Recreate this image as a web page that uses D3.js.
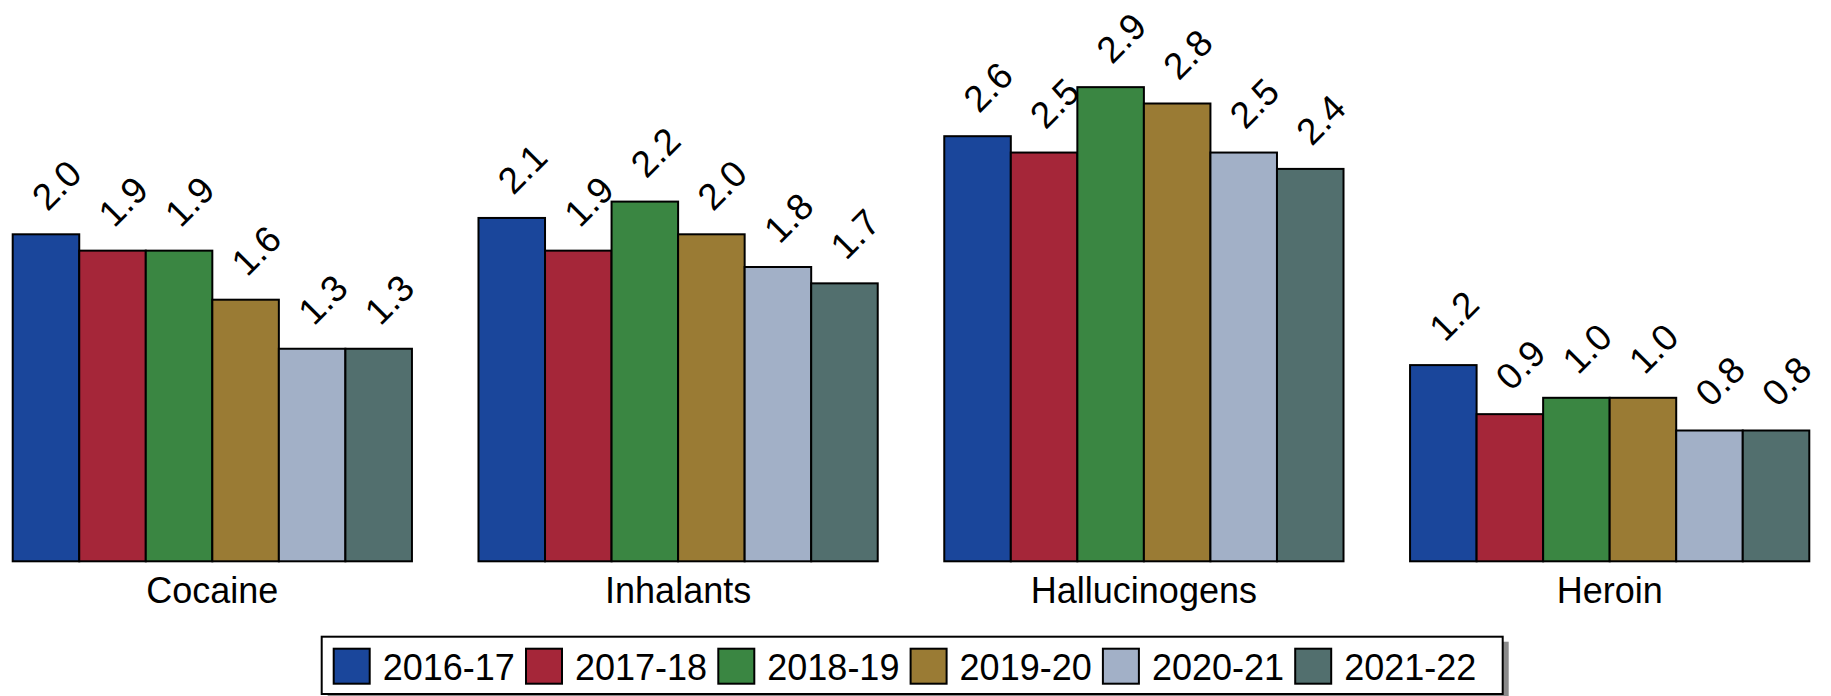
<!DOCTYPE html>
<html>
<head>
<meta charset="utf-8">
<script src="https://cdn.jsdelivr.net/npm/d3@7"></script>
<style>
html,body{margin:0;padding:0;background:#fff;}
svg{display:block;font-family:"Liberation Sans",Arial,Helvetica,sans-serif;}
</style>
</head>
<body>
<svg id="chart" width="1831" height="696"></svg>
<script>
// ---- data ----
const categories = ["Cocaine", "Inhalants", "Hallucinogens", "Heroin"];
const years = ["2016-17", "2017-18", "2018-19", "2019-20", "2020-21", "2021-22"];
const cocaine = [2.0, 1.9, 1.9, 1.6, 1.3, 1.3];
const inhalants = [2.1, 1.9, 2.2, 2.0, 1.8, 1.7];
const hallucinogens = [2.6, 2.5, 2.9, 2.8, 2.5, 2.4];
const heroin = [1.2, 0.9, 1.0, 1.0, 0.8, 0.8];
const colors = ["#1a469b", "#a52639", "#3a8642", "#9a7b34", "#a2b0c7", "#526f6e"];

const seriesByCategory = [cocaine, inhalants, hallucinogens, heroin];
const rows = [];
categories.forEach((c, ci) => {
  years.forEach((y, yi) => rows.push({cat: c, year: y, value: seriesByCategory[ci][yi]}));
});

// ---- layout ----
const svg = d3.select("#chart");
const fontSize = 36;

const x0 = d3.scaleBand().domain(categories).range([12.7, 1809.3]).paddingInner(1 / 7).paddingOuter(0);
const x1 = d3.scaleBand().domain(years).range([0, x0.bandwidth()]).padding(0);
const y = d3.scaleLinear().domain([0, 3]).range([561.3, 70.8]);
const color = d3.scaleOrdinal().domain(years).range(colors);

// bars
const g = svg.append("g");
g.selectAll("rect.bar").data(rows).join("rect")
  .attr("class", "bar")
  .attr("x", d => x0(d.cat) + x1(d.year))
  .attr("y", d => y(d.value))
  .attr("width", x1.bandwidth())
  .attr("height", d => y(0) - y(d.value))
  .attr("fill", d => color(d.year))
  .attr("stroke", "#000")
  .attr("stroke-width", 2);

// value labels, rotated 45 degrees
g.selectAll("text.val").data(rows).join("text")
  .attr("class", "val")
  .attr("transform", d => {
    const cx = x0(d.cat) + x1(d.year) + x1.bandwidth() / 2 + 1.5;
    const cy = y(d.value) - 22;
    return `translate(${cx},${cy}) rotate(-45)`;
  })
  .attr("font-size", 37)
  .attr("fill", "#000")
  .attr("text-anchor", "start")
  .text(d => d3.format(".1f")(d.value));

// category axis labels
const xAxis = d3.axisBottom(x0).tickSize(0).tickPadding(0);
const ax = svg.append("g").attr("transform", `translate(0,${y(0)})`).call(xAxis);
ax.select(".domain").remove();
ax.selectAll("text")
  .attr("font-size", fontSize)
  .attr("font-family", "'Liberation Sans',Arial,sans-serif")
  .attr("fill", "#000")
  .attr("dy", null)
  .attr("y", 42);

// ---- legend ----
const legX = 321.7, legY = 636.7, legW = 1181, legH = 57.3;
const leg = svg.append("g");
leg.append("rect")
  .attr("x", legX + 6).attr("y", legY + 5)
  .attr("width", legW).attr("height", legH)
  .attr("fill", "#8a8a8a");
leg.append("rect")
  .attr("x", legX).attr("y", legY)
  .attr("width", legW).attr("height", legH)
  .attr("fill", "#fff").attr("stroke", "#000").attr("stroke-width", 2);

const legItem = d3.scaleBand().domain(years).range([333.7, 333.7 + 6 * 192.3]);
const items = leg.selectAll("g.item").data(years).join("g")
  .attr("class", "item")
  .attr("transform", d => `translate(${legItem(d)},648.7)`);
items.append("rect")
  .attr("width", 36).attr("height", 35)
  .attr("fill", d => color(d))
  .attr("stroke", "#000").attr("stroke-width", 2);
items.append("text")
  .attr("x", 49).attr("y", 31.3)
  .attr("font-size", fontSize)
  .attr("fill", "#000")
  .text(d => d);
</script>
</body>
</html>
